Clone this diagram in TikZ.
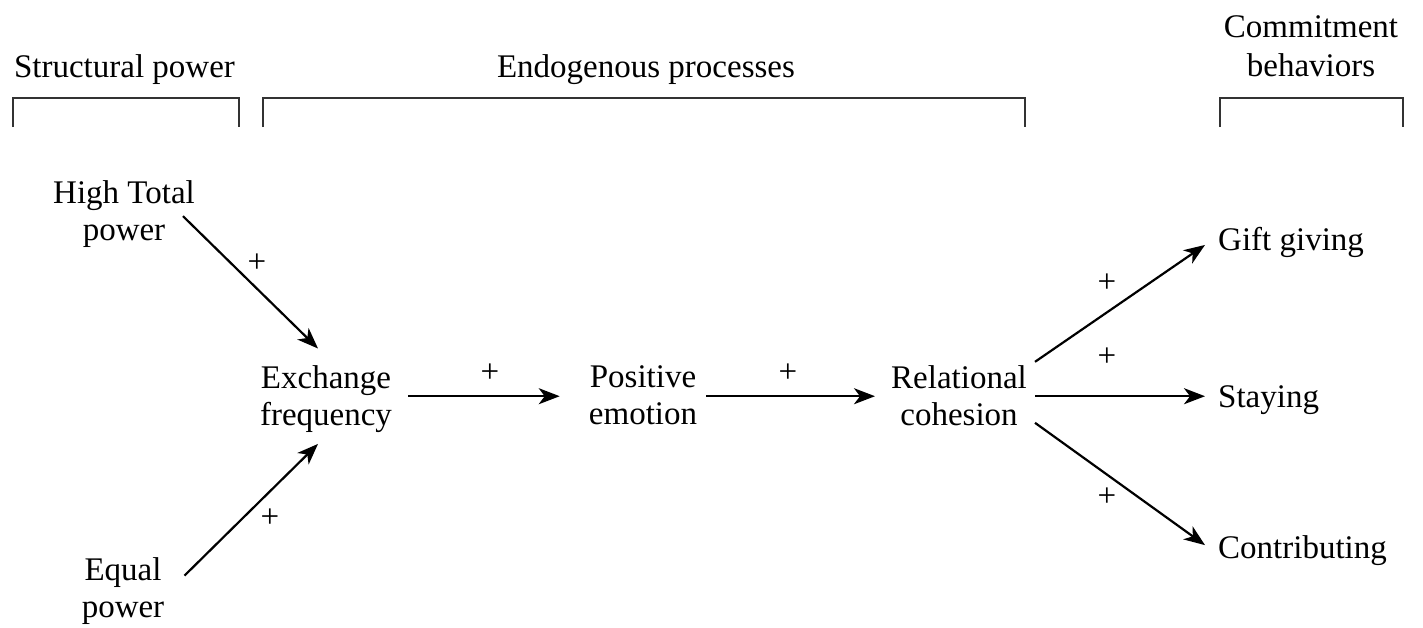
\documentclass[tikz,border=0pt]{standalone}
\usepackage{fontspec}
\setmainfont{Liberation Serif}
\usetikzlibrary{arrows.meta}
\begin{document}
\begin{tikzpicture}[x=1pt,y=-1pt,
  lbl/.style={inner sep=0pt,font=\fontsize{33}{37}\selectfont,align=center},
  plus/.style={inner sep=0pt,font=\fontsize{33}{37}\selectfont},
  arr/.style={line width=2.2pt,-{Stealth[length=21pt,width=16pt,inset=6pt]}},
  bracket/.style={line width=2pt,draw=black!80}]
\useasboundingbox (0,0) rectangle (1423,627);
% headers
\node[lbl,anchor=base] (hsp) at (124.5,77) {Structural power};
\node[lbl,anchor=base] (hep) at (646,77) {Endogenous processes};
\node[lbl,anchor=north,font=\fontsize{33}{38.5}\selectfont] (hcb) at (1311,15.5) {Commitment\\behaviors};
\draw[bracket] (13,127) |- (239,98) -- (239,127);
\draw[bracket] (263,127) |- (1025,98) -- (1025,127);
\draw[bracket] (1220,127) |- (1403,98) -- (1403,127);
% nodes
\node[lbl,anchor=north] (htp) at (124,180.5) {High Total\\power};
\node[lbl,anchor=north] (eq) at (123,557) {Equal\\power};
\node[lbl,anchor=north] (ef) at (326,365.5) {Exchange\\frequency};
\node[lbl,anchor=north] (pe) at (643,365.5) {Positive\\emotion};
\node[lbl,anchor=north] (rc) at (959,365.5) {Relational\\cohesion};
\node[lbl,anchor=base west] (gg) at (1218,250) {Gift giving};
\node[lbl,anchor=base west] (st) at (1218,407) {Staying};
\node[lbl,anchor=base west] (co) at (1218,558) {Contributing};
\coordinate (axis) at ([yshift=3pt]ef.east);
% arrows
\draw[arr] ([xshift=-12pt,yshift=-2pt]htp.east) -- ([xshift=-8pt,yshift=17pt]ef.north);
\draw[arr] ([xshift=20pt,yshift=15pt]eq.east) -- ([xshift=-8pt,yshift=-11pt]ef.south);
\draw[arr,shorten <=16pt,shorten >=29pt] (axis) -- (axis -| pe.west);
\draw[arr,shorten <=9pt,shorten >=16pt] (axis -| pe.east) -- (axis -| rc.west);
\draw[arr] ([xshift=8pt,yshift=34pt]rc.east) -- ([xshift=-13pt,yshift=-3pt]gg.west);
\draw[arr,shorten <=8pt,shorten >=13pt] (axis -| rc.east) -- (axis -| st.west);
\draw[arr] ([xshift=8pt,yshift=-27pt]rc.east) -- ([xshift=-13pt,yshift=5pt]co.west);
% plus signs
\node[plus] (p1) at (257,263) {+};
\node[plus] (p2) at (270,518) {+};
\node[plus] (p3) at (490,373) {+};
\node[plus] (p4) at (788,373) {+};
\node[plus] (p5) at (1107,283) {+};
\node[plus] (p6) at (1107,357) {+};
\node[plus] (p7) at (1107,497) {+};
\end{tikzpicture}
\end{document}
